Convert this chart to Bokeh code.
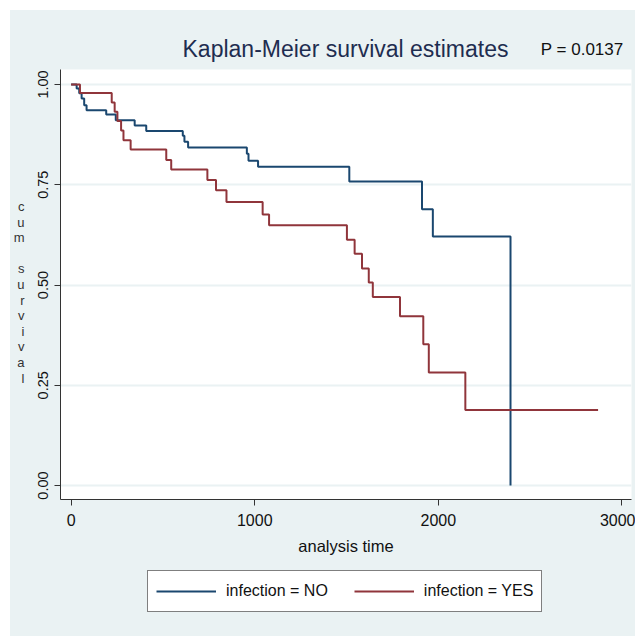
from bokeh.plotting import figure
from bokeh.layouts import column
from bokeh.models import Legend, LegendItem, FixedTicker, Range1d
from bokeh.core.properties import value
from bokeh.embed import file_html
from bokeh.resources import INLINE

# ---- data ----
no_time = [0, 30, 44, 57, 71, 84, 191, 243, 346, 409, 608, 617, 637, 957, 966,
           1018, 1515, 1911, 1970, 2393]
no_surv = [1.0, 0.990, 0.978, 0.965, 0.948, 0.936, 0.925, 0.911, 0.898, 0.884,
           0.872, 0.857, 0.843, 0.827, 0.810, 0.795, 0.758, 0.689, 0.621, 0.0]

yes_time = [0, 48, 221, 237, 252, 272, 285, 324, 518, 545, 742, 789, 846, 1043,
            1078, 1502, 1544, 1584, 1621, 1643, 1791, 1918, 1948, 2147, 2870]
yes_surv = [1.0, 0.979, 0.955, 0.932, 0.909, 0.885, 0.861, 0.838, 0.812, 0.788,
            0.762, 0.736, 0.707, 0.676, 0.649, 0.613, 0.578, 0.541, 0.506, 0.470,
            0.422, 0.352, 0.282, 0.188, 0.188]

x_ticks = [0, 1000, 2000, 3000]
y_ticks = [0.0, 0.25, 0.5, 0.75, 1.0]
y_tick_labels = ["0.00", "0.25", "0.50", "0.75", "1.00"]
title_text = "Kaplan-Meier survival estimates"
p_value_text = "P = 0.0137"
y_title = "cum survival"
x_title = "analysis time"
legend_labels = ["infection = NO", "infection = YES"]

FONT = "Liberation Sans"
BG = "#EAF2F3"
BLUE = "#1A476F"
RED = "#90353B"
W = 625
HEAD_H = 59
MAIN_H = 493
FOOT_H = 74
BORDER_L = 48
BORDER_R = 4
NAN = float("nan")


def strip(height):
    """Gray strip whose frame lines up with the main plot frame (page px)."""
    f = figure(width=W, height=height, output_backend="svg",
               toolbar_location=None,
               x_range=Range1d(10 + BORDER_L, 10 + W - BORDER_R),
               y_range=Range1d(0, height),
               x_axis_location=None, y_axis_location=None,
               min_border_left=BORDER_L, min_border_right=BORDER_R,
               min_border_top=0, min_border_bottom=0)
    f.background_fill_color = BG
    f.border_fill_color = BG
    f.outline_line_color = None
    f.grid.visible = False
    return f


# ---- header strip with title and p-value ----
head = strip(HEAD_H)
head.text(x=[344], y=[21], text=[title_text], text_font=value(FONT),
          text_font_size="23px", text_align="center",
          text_baseline="alphabetic", text_color="#1e2d50")
head.text(x=[540], y=[20], text=[p_value_text], text_font=value(FONT),
          text_font_size="17px", text_align="left",
          text_baseline="alphabetic", text_color="#111111")

# ---- main plot ----
p = figure(width=W, height=MAIN_H, output_backend="svg", toolbar_location=None,
           x_range=Range1d(-58, 3052), y_range=Range1d(-0.0349, 1.0374),
           min_border_left=BORDER_L, min_border_right=BORDER_R,
           min_border_top=0, min_border_bottom=63)
p.border_fill_color = BG
p.background_fill_color = "white"
p.outline_line_color = None

p.xgrid.visible = False
p.ygrid.ticker = FixedTicker(ticks=y_ticks)
p.ygrid.grid_line_color = BG
p.ygrid.grid_line_width = 2

# x axis
xa = p.xaxis[0]
xa.ticker = FixedTicker(ticks=x_ticks)
xa.major_tick_out = 6
xa.major_tick_in = 0
xa.minor_tick_out = 0
xa.minor_tick_in = 0
xa.axis_line_color = "#333333"
xa.major_tick_line_color = "#333333"
xa.major_label_text_font = FONT
xa.major_label_text_font_size = "16px"
xa.major_label_text_color = "#111111"
xa.major_label_standoff = 8
xa.axis_label = x_title
xa.axis_label_text_font = FONT
xa.axis_label_text_font_size = "16.5px"
xa.axis_label_text_font_style = "normal"
xa.axis_label_text_color = "#111111"
xa.axis_label_standoff = 8

# y axis
ya = p.yaxis[0]
ya.ticker = FixedTicker(ticks=y_ticks)
ya.major_label_overrides = {t: l for t, l in zip(y_ticks, y_tick_labels)}
ya.major_label_orientation = "vertical"
ya.major_tick_out = 6
ya.major_tick_in = 0
ya.minor_tick_out = 0
ya.minor_tick_in = 0
ya.axis_line_color = "#333333"
ya.major_tick_line_color = "#333333"
ya.major_label_text_font = FONT
ya.major_label_text_font_size = "14.5px"
ya.major_label_text_color = "#111111"
ya.major_label_standoff = 6
# stacked letters, one per line
ya.axis_label = "\n" + "\n".join(list(y_title))
ya.axis_label_text_font = FONT
ya.axis_label_text_font_size = "13px"
ya.axis_label_text_font_style = "normal"
ya.axis_label_text_color = "#333333"
ya.axis_label_text_line_height = 1.04
ya.axis_label_standoff = 11
if "axis_label_orientation" in ya.properties():
    ya.axis_label_orientation = "horizontal"

# curves
p.step(no_time, no_surv, mode="after", line_color=BLUE, line_width=2)
p.step(yes_time, yes_surv, mode="after", line_color=RED, line_width=2)

# ---- footer strip with the legend ----
foot = strip(FOOT_H)
k_no = foot.line(x=[NAN], y=[NAN], line_color=BLUE, line_width=2)
k_yes = foot.line(x=[NAN], y=[NAN], line_color=RED, line_width=2)
legend = Legend(items=[LegendItem(label=legend_labels[0], renderers=[k_no]),
                       LegendItem(label=legend_labels[1], renderers=[k_yes])],
                location=(87, 24), orientation="horizontal",
                border_line_color="black", border_line_width=1,
                background_fill_color="white", background_fill_alpha=1.0,
                glyph_width=60, glyph_height=24, label_height=24,
                label_standoff=10, spacing=26, padding=8, margin=0,
                label_text_font=FONT, label_text_font_size="16px",
                label_text_color="#111111")
foot.add_layout(legend)

layout = column(head, p, foot, spacing=0, margin=(10, 0, 0, 10),
                styles={"background-color": BG})
open("out.html", "w").write(file_html(layout, INLINE))
